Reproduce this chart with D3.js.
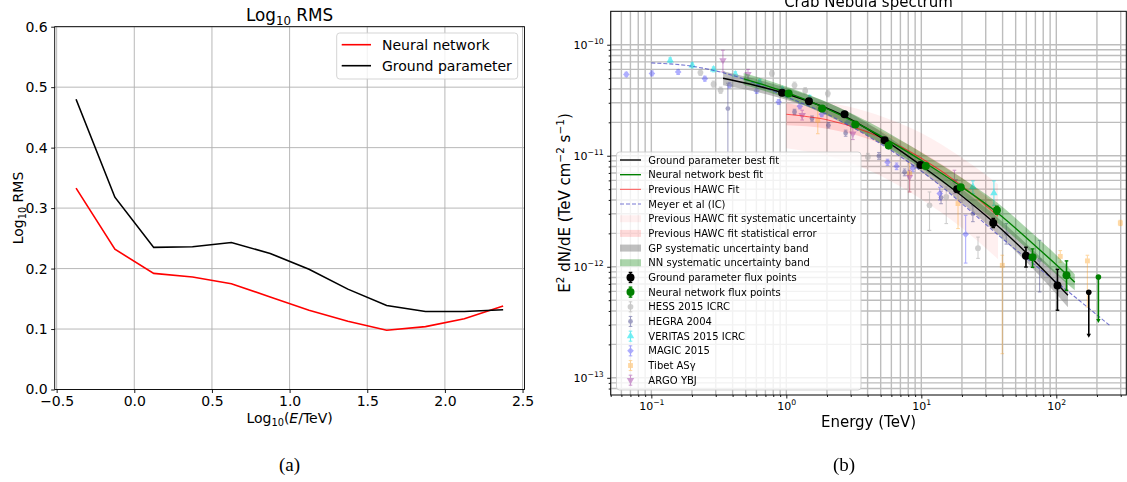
<!DOCTYPE html>
<html><head><meta charset="utf-8">
<script src="https://cdn.jsdelivr.net/npm/d3@7/dist/d3.min.js"></script>
<style>
html,body{margin:0;padding:0;background:#fff;}
svg{display:block;}
text{font-family:"DejaVu Sans","Liberation Sans",sans-serif;}
text.serif{font-family:"Liberation Serif","DejaVu Serif",serif;}
</style></head><body>
<svg id="fig" width="1127" height="482" xmlns="http://www.w3.org/2000/svg"></svg>
<script>
// ================= DATA : panel (a) =================
const binCentres = [-0.375,-0.125,0.125,0.375,0.625,0.875,1.125,1.375,1.625,1.875,2.125,2.375];
const rmsNeural  = [0.333,0.232,0.192,0.186,0.175,0.153,0.131,0.113,0.098,0.104,0.117,0.138];
const rmsGround  = [0.480,0.318,0.235,0.236,0.243,0.225,0.199,0.166,0.139,0.129,0.129,0.132];
const xTicksA = [-0.5,0,0.5,1,1.5,2,2.5];
const yTicksA = [0,0.1,0.2,0.3,0.4,0.5,0.6];

// ================= DATA : panel (b) =================
const xMajorB = [0.1,1,10,100];
const xMinorB = [0.05,0.06,0.07,0.08,0.09,0.2,0.3,0.4,0.5,0.6,0.7,0.8,0.9,2,3,4,5,6,7,8,9,20,30,40,50,60,70,80,90,200,300];
const yMajorB = [1e-13,1e-12,1e-11,1e-10];
const yMinorB = [8e-14,9e-14,2e-13,3e-13,4e-13,5e-13,6e-13,7e-13,8e-13,9e-13,2e-12,3e-12,4e-12,5e-12,6e-12,7e-12,8e-12,9e-12,2e-11,3e-11,4e-11,5e-11,6e-11,7e-11,8e-11,9e-11];

// Ground parameter best fit + systematic band
const gpFitE  = [0.34,0.93,2.7,9.8,34,102,122];
const gpFitF  = [4.99e-11,3.71e-11,2.27e-11,8.3e-12,2.54e-12,6.95e-13,5.53e-13];
const gpBandLo= [4.31e-11,3.27e-11,2.00e-11,7.32e-12,2.15e-12,5.54e-13,4.32e-13];
const gpBandHi= [5.77e-11,4.20e-11,2.57e-11,9.40e-12,3.00e-12,8.73e-13,7.10e-13];
// Neural network best fit + systematic band
const nnFitE  = [0.483,1.04,3.24,10.8,19.6,36.2,66.5,119,137];
const nnFitF  = [4.92e-11,3.66e-11,2.0e-11,8.56e-12,5.31e-12,3.1e-12,1.63e-12,8.55e-13,7.25e-13];
const nnBandLo= [4.35e-11,3.23e-11,1.73e-11,7.25e-12,4.41e-12,2.52e-12,1.32e-12,7.10e-13,6.14e-13];
const nnBandHi= [5.57e-11,4.14e-11,2.32e-11,1.01e-11,6.40e-12,3.81e-12,2.00e-12,1.03e-12,8.56e-13];
// Previous HAWC fit, statistical and systematic bands
const hawcE     = [1,2,4,7,10,20,37];
const hawcF     = [2.366e-11,2.11e-11,1.64e-11,1.21e-11,9.5e-12,5.36e-12,2.86e-12];
const hawcStatLo= [1.88e-11,1.75e-11,1.42e-11,1.07e-11,8.40e-12,4.54e-12,2.32e-12];
const hawcStatHi= [2.97e-11,2.55e-11,1.90e-11,1.37e-11,1.08e-11,6.32e-12,3.52e-12];
const hawcSysLo = [1.17e-11,1.00e-11,7.48e-12,5.29e-12,4.06e-12,2.24e-12,1.17e-12];
const hawcSysHi = [3.23e-11,3.01e-11,2.49e-11,1.95e-11,1.60e-11,9.57e-12,5.55e-12];
// Meyer et al (IC)
const meyerE = [0.1,0.2,0.3,0.475,0.94,2.2,9.8,50.6,157,248];
const meyerF = [6.86e-11,6.40e-11,5.81e-11,4.95e-11,3.51e-11,2.24e-11,7.40e-12,1.41e-12,4.69e-13,2.97e-13];

// Flux points
const gpPtE  = [0.93,1.47,2.70,5.35,9.84,18.4,34.1,59.6,102];
const gpPtF  = [3.70e-11,3.10e-11,2.37e-11,1.38e-11,8.26e-12,4.99e-12,2.48e-12,1.26e-12,6.77e-13];
const gpPtLo = [3.55e-11,2.98e-11,2.28e-11,1.32e-11,7.9e-12,4.75e-12,2.26e-12,9.95e-13,4.06e-13];
const gpPtHi = [3.85e-11,3.22e-11,2.46e-11,1.44e-11,8.6e-12,5.25e-12,2.72e-12,1.50e-12,9.48e-13];
const gpUL   = {E:174, F:5.89e-13, to:2.29e-13};
const nnPtE  = [1.04,1.84,3.24,5.73,10.8,19.6,36.3,66.7,119];
const nnPtF  = [3.63e-11,2.66e-11,1.91e-11,1.24e-11,8.09e-12,5.2e-12,3.23e-12,1.22e-12,8.37e-13];
const nnPtLo = [3.48e-11,2.55e-11,1.83e-11,1.19e-11,7.75e-12,4.95e-12,2.97e-12,9.88e-13,6.14e-13];
const nnPtHi = [3.78e-11,2.77e-11,1.99e-11,1.29e-11,8.45e-12,5.45e-12,3.51e-12,1.45e-12,1.13e-12];
const nnUL   = {E:205, F:8.1e-13, to:3.12e-13};

// Other experiments
const hessE  = [0.231,0.289,0.326,0.782,1.15,1.38,2.03,4.02,11.5,15.3,26.3];
const hessF  = [5.62e-11,4.41e-11,3.89e-11,5.51e-11,4.31e-11,3.84e-11,3.63e-11,9.75e-12,3.58e-12,4.26e-12,1.47e-12];
const hessLo = [5.3e-11,4.15e-11,3.65e-11,5.2e-11,4.05e-11,3.6e-11,3.4e-11,9.0e-12,2.13e-12,2.45e-12,1.19e-12];
const hessHi = [5.95e-11,4.7e-11,4.15e-11,5.85e-11,4.6e-11,4.1e-11,3.9e-11,1.05e-11,4.72e-12,5.24e-12,1.85e-12];
const hegraE = [0.369,1.15,1.55,2.05,2.75,4.85,7.52,14,24.1,42.6,75.2];
const hegraF = [2.66e-11,2.48e-11,2.16e-11,1.88e-11,1.60e-11,9.96e-12,7.10e-12,4.2e-12,3.01e-12,1.99e-12,1.15e-12];
const hegraLo= [9.1e-12,2.35e-11,2.05e-11,1.78e-11,1.5e-11,9.3e-12,6.6e-12,3.7e-12,2.55e-12,1.6e-12,5.93e-13];
const hegraHi= [4.50e-11,2.62e-11,2.28e-11,1.99e-11,1.7e-11,1.07e-11,7.6e-12,4.8e-12,3.55e-12,2.45e-12,1.73e-12];
const veritasE = [0.138,0.201,0.289,0.419,0.634,0.933,1.49,24.1,34.5];
const veritasF = [7.24e-11,6.53e-11,6.01e-11,5.42e-11,4.59e-11,3.95e-11,3.30e-11,5.24e-12,4.62e-12];
const veritasLo= [6.9e-11,6.2e-11,5.7e-11,5.15e-11,4.35e-11,3.75e-11,3.1e-11,4.56e-12,3.58e-12];
const veritasHi= [7.6e-11,6.85e-11,6.3e-11,5.7e-11,4.85e-11,4.15e-11,3.5e-11,5.93e-12,5.93e-12];
const magicE = [0.0653,0.101,0.158,0.249,0.380,0.603,0.877,1.26,1.83,2.85,5.62,6.56,8.63,13.7,21.3];
const magicF = [5.40e-11,5.51e-11,5.69e-11,4.95e-11,4.31e-11,3.84e-11,3.05e-11,2.79e-11,2.37e-11,2.00e-11,8.74e-12,8.04e-12,7.71e-12,4.56e-12,1.96e-12];
const magicLo= [5.15e-11,5.25e-11,5.4e-11,4.7e-11,4.1e-11,3.65e-11,2.9e-11,2.65e-11,2.25e-11,1.9e-11,8.2e-12,7.5e-12,7.2e-12,4.0e-12,1.08e-12];
const magicHi= [5.65e-11,5.8e-11,5.95e-11,5.2e-11,4.55e-11,4.05e-11,3.2e-11,2.95e-11,2.5e-11,2.1e-11,9.3e-12,8.6e-12,8.2e-12,5.2e-12,2.91e-12];
const tibetE = [1.71,8.19,18.7,39.8,107,170,298];
const tibetF = [2.09e-11,6.92e-12,3.71e-12,1.03e-12,1.24e-12,1.13e-12,2.48e-12];
const tibetLo= [1.58e-11,4.72e-12,2.21e-12,1.65e-13,1.1e-12,4.35e-13,2.35e-12];
const tibetHi= [2.75e-11,8.56e-12,5.24e-12,1.27e-12,1.4e-12,1.27e-12,2.62e-12];
const argoE  = [0.339,0.520,1.31,3.11,8.19,17.6];
const argoF  = [7.24e-11,5.42e-11,2.32e-11,1.58e-11,6.44e-12,5.89e-12];
const argoLo = [5.69e-11,4.9e-11,2.1e-11,1.4e-11,4.72e-12,4.56e-12];
const argoHi = [8.91e-11,6.0e-11,2.57e-11,1.79e-11,7.40e-12,7.40e-12];

// ================= DRAWING =================
const FONT = '"DejaVu Sans", sans-serif';
const svg = d3.select('#fig');
const MINUS = '\u2212';

// ---------- panel (a) ----------
const A = {l:54.7, r:524.5, t:26.7, b:389.5};
const xA = d3.scaleLinear().domain([-0.5125, 2.5125]).range([A.l, A.r]);
const yA = d3.scaleLinear().domain([0, 0.6]).range([A.b, A.t]);
const ga = svg.append('g');
ga.append('g').selectAll('line').data(xTicksA).join('line')
  .attr('x1', d=>xA(d)).attr('x2', d=>xA(d)).attr('y1', A.t).attr('y2', A.b)
  .attr('stroke','#b0b0b0').attr('stroke-width',0.9);
ga.append('g').selectAll('line').data(yTicksA).join('line')
  .attr('y1', d=>yA(d)).attr('y2', d=>yA(d)).attr('x1', A.l).attr('x2', A.r)
  .attr('stroke','#b0b0b0').attr('stroke-width',0.9);
const lineA = d3.line().x((d,i)=>xA(binCentres[i])).y(d=>yA(d));
ga.append('path').attr('d', lineA(rmsNeural)).attr('fill','none').attr('stroke','#ff0000').attr('stroke-width',1.6);
ga.append('path').attr('d', lineA(rmsGround)).attr('fill','none').attr('stroke','#000').attr('stroke-width',1.6);
const fmtA = d => (d<0?MINUS:'') + Math.abs(d).toFixed(1);
const axBa = ga.append('g').attr('transform',`translate(0,${A.b})`)
  .call(d3.axisBottom(xA).tickValues(xTicksA).tickFormat(fmtA).tickSize(3.5).tickPadding(3.5));
const axLa = ga.append('g').attr('transform',`translate(${A.l},0)`)
  .call(d3.axisLeft(yA).tickValues(yTicksA).tickFormat(d=>d.toFixed(1)).tickSize(3.5).tickPadding(3.5));
[axBa, axLa].forEach(g=>{
  g.select('.domain').remove();
  g.selectAll('text').attr('font-size',14).attr('fill','#000');
  g.selectAll('.tick line').attr('stroke','#000').attr('stroke-width',0.9);
});
ga.append('rect').attr('x',A.l).attr('y',A.t).attr('width',A.r-A.l).attr('height',A.b-A.t)
  .attr('fill','none').attr('stroke','#000').attr('stroke-width',0.9);
// title (a)
{
  const t = ga.append('text').attr('x',(A.l+A.r)/2).attr('y',21).attr('text-anchor','middle').attr('font-size',16.8);
  t.append('tspan').text('Log');
  t.append('tspan').attr('font-size',11.8).attr('dy',4).text('10');
  t.append('tspan').attr('dy',-4).text(' RMS');
}
// x label (a)
{
  const t = ga.append('text').attr('x',(A.l+A.r)/2).attr('y',423).attr('text-anchor','middle').attr('font-size',14);
  t.append('tspan').text('Log');
  t.append('tspan').attr('font-size',9.8).attr('dy',3.3).text('10');
  t.append('tspan').attr('dy',-3.3).text('(');
  t.append('tspan').attr('font-style','italic').text('E');
  t.append('tspan').text('/TeV)');
}
// y label (a)
{
  const t = ga.append('text').attr('transform','translate(22.5,208) rotate(-90)').attr('text-anchor','middle').attr('font-size',14);
  t.append('tspan').text('Log');
  t.append('tspan').attr('font-size',9.8).attr('dy',3.3).text('10');
  t.append('tspan').attr('dy',-3.3).text(' RMS');
}
// legend (a)
{
  const lg = ga.append('g');
  lg.append('rect').attr('x',336.7).attr('y',33).attr('width',181).attr('height',46).attr('rx',3)
    .attr('fill','#fff').attr('fill-opacity',0.8).attr('stroke','#d0d0d0').attr('stroke-width',0.9);
  const items = [['Neural network','#ff0000',44.7],['Ground parameter','#000',65.7]];
  items.forEach(([lab,c,y])=>{
    lg.append('line').attr('x1',341.7).attr('x2',371).attr('y1',y).attr('y2',y).attr('stroke',c).attr('stroke-width',1.6);
    lg.append('text').attr('x',382).attr('y',y+5).attr('font-size',14).text(lab);
  });
}
svg.append('text').attr('class','serif').attr('x',289.6).attr('y',471).attr('text-anchor','middle')
  .attr('font-size',19).text('(a)');

// ---------- panel (b) ----------
const B = {l:610.7, r:1126.3, t:11.3, b:395};
const xB = d3.scaleLog().domain([0.05,330]).range([B.l,B.r]);
const yB = d3.scaleLog().domain([7e-14,2e-10]).range([B.b,B.t]);
const gb = svg.append('g');
gb.append('clipPath').attr('id','clipB').append('rect')
  .attr('x',B.l).attr('y',B.t).attr('width',B.r-B.l).attr('height',B.b-B.t);
const plot = gb.append('g').attr('clip-path','url(#clipB)');

// grid (major + minor)
const gridG = plot.append('g');
const gridStyle = s => s.attr('stroke','#bdbdbd').attr('stroke-width',1.4);
gridG.selectAll('line.vx').data(xMajorB.concat(xMinorB)).join('line').attr('class','vx')
  .attr('x1',d=>xB(d)).attr('x2',d=>xB(d)).attr('y1',B.t).attr('y2',B.b).call(gridStyle);
gridG.selectAll('line.hy').data(yMajorB.concat(yMinorB)).join('line').attr('class','hy')
  .attr('y1',d=>yB(d)).attr('y2',d=>yB(d)).attr('x1',B.l).attr('x2',B.r).call(gridStyle);

const bandArea = (E, lo, hi) => d3.area().curve(d3.curveMonotoneX)
  .x((d,i)=>xB(E[i])).y0((d,i)=>yB(lo[i])).y1((d,i)=>yB(hi[i]))(E);
const curveLine = (E, F) => d3.line().curve(d3.curveMonotoneX)
  .x((d,i)=>xB(E[i])).y((d,i)=>yB(F[i]))(E);

// HAWC bands
plot.append('path').attr('d',bandArea(hawcE,hawcSysLo,hawcSysHi)).attr('fill','#ff0000').attr('fill-opacity',0.06);
plot.append('path').attr('d',bandArea(hawcE,hawcStatLo,hawcStatHi)).attr('fill','#ff0000').attr('fill-opacity',0.14);

// other experiments
function errSeries(E,F,lo,hi,color,op,sym,size,rot){
  const g = plot.append('g').attr('opacity',op);
  E.forEach((e,i)=>{
    const x = xB(e);
    g.append('line').attr('x1',x).attr('x2',x).attr('y1',yB(lo[i])).attr('y2',yB(hi[i]))
      .attr('stroke',color).attr('stroke-width',1.1);
    [lo[i],hi[i]].forEach(v=>g.append('line').attr('x1',x-1.8).attr('x2',x+1.8).attr('y1',yB(v)).attr('y2',yB(v))
      .attr('stroke',color).attr('stroke-width',1.1));
    g.append('path').attr('d',d3.symbol().type(sym).size(size)())
      .attr('transform',`translate(${x},${yB(F[i])}) rotate(${rot||0})`).attr('fill',color);
  });
}
errSeries(hessE,hessF,hessLo,hessHi,'#a8a8a8',0.55,d3.symbolCircle,26);
errSeries(hegraE,hegraF,hegraLo,hegraHi,'#4b4b8f',0.5,d3.symbolCircle,18);
errSeries(veritasE,veritasF,veritasLo,veritasHi,'#00e5ee',0.55,d3.symbolTriangle,24);
errSeries(magicE,magicF,magicLo,magicHi,'#3535ff',0.4,d3.symbolSquare,22,45);
errSeries(tibetE,tibetF,tibetLo,tibetHi,'#ffa020',0.4,d3.symbolSquare,24);
errSeries(argoE,argoF,argoLo,argoHi,'#9b30a0',0.45,d3.symbolTriangle,24,180);

// GP / NN bands
plot.append('path').attr('d',bandArea(gpFitE,gpBandLo,gpBandHi)).attr('fill','#808080').attr('fill-opacity',0.5);
plot.append('path').attr('d',bandArea(nnFitE,nnBandLo,nnBandHi)).attr('fill','#008000').attr('fill-opacity',0.33);

// lines
plot.append('path').attr('d',curveLine(hawcE,hawcF)).attr('fill','none').attr('stroke','#ff0000').attr('stroke-opacity',0.6).attr('stroke-width',1.1);
plot.append('path').attr('d',curveLine(meyerE,meyerF)).attr('fill','none').attr('stroke','#4040c0').attr('stroke-opacity',0.7).attr('stroke-width',1.1).attr('stroke-dasharray','4,2');
plot.append('path').attr('d',curveLine(gpFitE,gpFitF)).attr('fill','none').attr('stroke','#000').attr('stroke-width',1.4);
plot.append('path').attr('d',curveLine(nnFitE,nnFitF)).attr('fill','none').attr('stroke','#008000').attr('stroke-width',1.4);

// flux points
function fluxPts(E,F,lo,hi,ul,color){
  const g = plot.append('g');
  E.forEach((e,i)=>{
    const x = xB(e);
    g.append('line').attr('x1',x).attr('x2',x).attr('y1',yB(lo[i])).attr('y2',yB(hi[i])).attr('stroke',color).attr('stroke-width',1.6);
    [lo[i],hi[i]].forEach(v=>g.append('line').attr('x1',x-1.8).attr('x2',x+1.8).attr('y1',yB(v)).attr('y2',yB(v)).attr('stroke',color).attr('stroke-width',1.4));
    g.append('circle').attr('cx',x).attr('cy',yB(F[i])).attr('r',4).attr('fill',color);
  });
  const x = xB(ul.E), y0 = yB(ul.F), y1 = yB(ul.to);
  g.append('line').attr('x1',x).attr('x2',x).attr('y1',y0).attr('y2',y1-2).attr('stroke',color).attr('stroke-width',1.6);
  g.append('path').attr('d',`M${x-2.2},${y1-4}L${x+2.2},${y1-4}L${x},${y1}Z`).attr('fill',color);
  g.append('circle').attr('cx',x).attr('cy',y0).attr('r',2.8).attr('fill',color);
}
fluxPts(gpPtE,gpPtF,gpPtLo,gpPtHi,gpUL,'#000');
fluxPts(nnPtE,nnPtF,nnPtLo,nnPtHi,nnUL,'#008000');

// axes (b)
function supLabels(g, base){
  g.selectAll('.tick text').each(function(d){
    const t = d3.select(this);
    const e = Math.round(Math.log10(d));
    t.text(null).attr('font-size',base).attr('fill','#000');
    t.append('tspan').text('10');
    t.append('tspan').attr('font-size',base*0.7).attr('dy',-base*0.45).text(e<0?MINUS+(-e):String(e));
  });
}
const axBbMaj = gb.append('g').attr('transform',`translate(0,${B.b})`)
  .call(d3.axisBottom(xB).tickValues(xMajorB).tickSize(3.5).tickPadding(3.5));
const axBbMin = gb.append('g').attr('transform',`translate(0,${B.b})`)
  .call(d3.axisBottom(xB).tickValues(xMinorB).tickSize(2).tickFormat(()=>''));
const axLbMaj = gb.append('g').attr('transform',`translate(${B.l},0)`)
  .call(d3.axisLeft(yB).tickValues(yMajorB).tickSize(3.5).tickPadding(3.5));
const axLbMin = gb.append('g').attr('transform',`translate(${B.l},0)`)
  .call(d3.axisLeft(yB).tickValues(yMinorB).tickSize(2).tickFormat(()=>''));
[axBbMaj,axBbMin,axLbMaj,axLbMin].forEach(g=>{
  g.select('.domain').remove();
  g.selectAll('.tick line').attr('stroke','#000').attr('stroke-width',0.9);
});
supLabels(axBbMaj, 11);
supLabels(axLbMaj, 11);
gb.append('rect').attr('x',B.l).attr('y',B.t).attr('width',B.r-B.l).attr('height',B.b-B.t)
  .attr('fill','none').attr('stroke','#000').attr('stroke-width',1);

gb.append('text').attr('x',(B.l+B.r)/2).attr('y',6.5).attr('text-anchor','middle').attr('font-size',15).text('Crab Nebula spectrum');
gb.append('text').attr('x',(B.l+B.r)/2).attr('y',427).attr('text-anchor','middle').attr('font-size',15).text('Energy (TeV)');
{
  const t = gb.append('text').attr('transform','translate(570,203) rotate(-90)').attr('text-anchor','middle').attr('font-size',15);
  t.append('tspan').text('E');
  t.append('tspan').attr('font-size',10.5).attr('dy',-6).text('2');
  t.append('tspan').attr('dy',6).text(' dN/dE (TeV cm');
  t.append('tspan').attr('font-size',10.5).attr('dy',-6).text(MINUS+'2');
  t.append('tspan').attr('dy',6).text(' s');
  t.append('tspan').attr('font-size',10.5).attr('dy',-6).text(MINUS+'1');
  t.append('tspan').attr('dy',6).text(')');
}
svg.append('text').attr('class','serif').attr('x',844).attr('y',471).attr('text-anchor','middle')
  .attr('font-size',19).text('(b)');

// legend (b)
const legendItems = [
  {label:'Ground parameter best fit', kind:'line', color:'#000', w:1.4},
  {label:'Neural network best fit', kind:'line', color:'#008000', w:1.4},
  {label:'Previous HAWC Fit', kind:'line', color:'#ff0000', op:0.6, w:1.1},
  {label:'Meyer et al (IC)', kind:'dash', color:'#4040c0', op:0.7, w:1.1},
  {label:'Previous HAWC fit systematic uncertainty', kind:'patch', color:'#ff0000', op:0.06},
  {label:'Previous HAWC fit statistical error', kind:'patch', color:'#ff0000', op:0.14},
  {label:'GP systematic uncertainty band', kind:'patch', color:'#808080', op:0.5},
  {label:'NN systematic uncertainty band', kind:'patch', color:'#008000', op:0.33},
  {label:'Ground parameter flux points', kind:'flux', color:'#000'},
  {label:'Neural network flux points', kind:'flux', color:'#008000'},
  {label:'HESS 2015 ICRC', kind:'pt', color:'#a8a8a8', op:0.55, sym:d3.symbolCircle, size:26},
  {label:'HEGRA 2004', kind:'pt', color:'#4b4b8f', op:0.5, sym:d3.symbolCircle, size:18},
  {label:'VERITAS 2015 ICRC', kind:'pt', color:'#00e5ee', op:0.55, sym:d3.symbolTriangle, size:24},
  {label:'MAGIC 2015', kind:'pt', color:'#3535ff', op:0.4, sym:d3.symbolSquare, size:22, rot:45},
  {label:'Tibet AS\u03b3', kind:'pt', color:'#ffa020', op:0.4, sym:d3.symbolSquare, size:24},
  {label:'ARGO YBJ', kind:'pt', color:'#9b30a0', op:0.45, sym:d3.symbolTriangle, size:24, rot:180}
];
{
  const lg = gb.append('g');
  lg.append('rect').attr('x',616.5).attr('y',152).attr('width',244.5).attr('height',238).attr('rx',3)
    .attr('fill','#fff').attr('fill-opacity',0.8).attr('stroke','#cccccc').attr('stroke-width',0.9);
  const x0 = 620, x1 = 641, xm = 630.5;
  legendItems.forEach((it,i)=>{
    const y = 160 + i*14.68;
    if(it.kind==='line' || it.kind==='dash'){
      const l = lg.append('line').attr('x1',x0).attr('x2',x1).attr('y1',y).attr('y2',y)
        .attr('stroke',it.color).attr('stroke-width',it.w).attr('stroke-opacity',it.op||1);
      if(it.kind==='dash') l.attr('stroke-dasharray','4,2');
    } else if(it.kind==='patch'){
      lg.append('rect').attr('x',x0).attr('y',y-3.5).attr('width',x1-x0).attr('height',7)
        .attr('fill',it.color).attr('fill-opacity',it.op);
    } else if(it.kind==='flux'){
      lg.append('line').attr('x1',xm).attr('x2',xm).attr('y1',y-5).attr('y2',y+5).attr('stroke',it.color).attr('stroke-width',1.6);
      [y-5,y+5].forEach(v=>lg.append('line').attr('x1',xm-1.8).attr('x2',xm+1.8).attr('y1',v).attr('y2',v).attr('stroke',it.color).attr('stroke-width',1.4));
      lg.append('circle').attr('cx',xm).attr('cy',y).attr('r',4).attr('fill',it.color);
    } else {
      const g = lg.append('g').attr('opacity',it.op);
      g.append('line').attr('x1',xm).attr('x2',xm).attr('y1',y-5).attr('y2',y+5).attr('stroke',it.color).attr('stroke-width',1.1);
      [y-5,y+5].forEach(v=>g.append('line').attr('x1',xm-1.8).attr('x2',xm+1.8).attr('y1',v).attr('y2',v).attr('stroke',it.color).attr('stroke-width',1.1));
      g.append('path').attr('d',d3.symbol().type(it.sym).size(it.size)())
        .attr('transform',`translate(${xm},${y}) rotate(${it.rot||0})`).attr('fill',it.color);
    }
    lg.append('text').attr('x',648.3).attr('y',y+3.6).attr('font-size',10).text(it.label);
  });
}
</script>
</body></html>
